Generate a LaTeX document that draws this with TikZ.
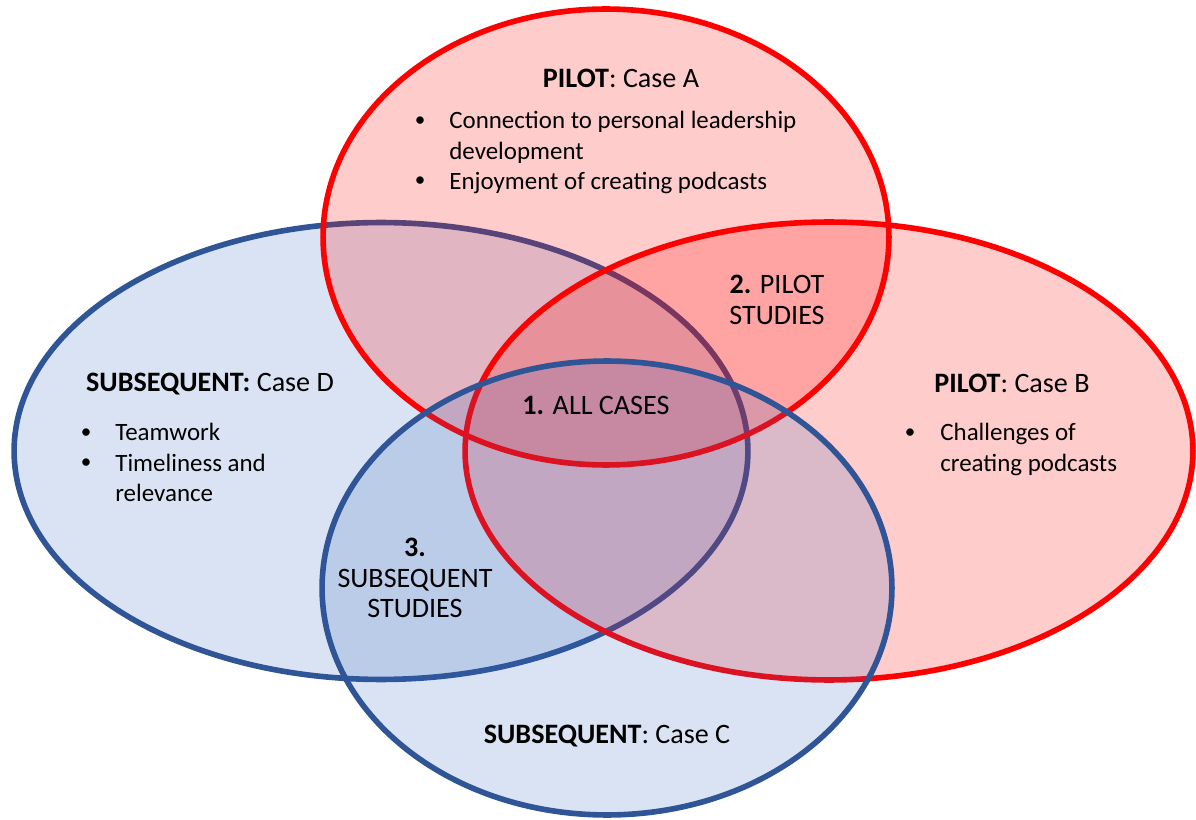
\documentclass[tikz,border=0pt]{standalone}
\usepackage{fontspec}
\setmainfont{Carlito}
\usepackage{tikz}
\usetikzlibrary{shapes, positioning}
\definecolor{pilotred}{RGB}{255,0,0}
\definecolor{subblue}{RGB}{47,85,151}
\definecolor{subfill}{RGB}{50,100,188}
\tikzstyle{pilot} = [ellipse, draw=pilotred, line width=3.2pt,
    fill=pilotred, fill opacity=0.2, draw opacity=1, inner sep=0pt]
\tikzstyle{subsequent} = [ellipse, draw=subblue, line width=3.2pt,
    fill=subfill, fill opacity=0.18, draw opacity=1, inner sep=0pt]
\tikzstyle{label} = [font=\fontsize{16}{17.5}\selectfont, inner sep=0pt, align=left]
\tikzstyle{finding} = [font=\fontsize{14.2}{17.3}\selectfont, inner sep=0pt, align=left]
\tikzstyle{bullet} = [font=\fontsize{12}{17.5}\selectfont, inner sep=0pt]

\begin{document}
\begin{tikzpicture}[x=0.02cm, y=-0.02cm]
    \useasboundingbox (0,0) rectangle (1196,820);
    % Sets
    \node [subsequent, minimum width=14.68cm, minimum height=9.14cm] (caseD) at (381,451) {};
    \node [pilot, minimum width=14.56cm, minimum height=9.16cm] (caseB) at (829,451) {};
    \node [pilot, minimum width=11.32cm, minimum height=9.12cm] (caseA) at (606,237) {};
    \node [subsequent, minimum width=11.40cm, minimum height=9.08cm] (caseC) at (607,588) {};
    % Titles
    \node [label] (titleA) at (621,78) {\textbf{PILOT}: Case A};
    \node [label] (titleB) at (1012,383) {\textbf{PILOT}: Case B};
    \node [label] (titleC) at (607,736) {\textbf{SUBSEQUENT}: Case C};
    \node [label] (titleD) at (210,384) {\textbf{SUBSEQUENT:} Case D};
    % Findings
    \node [finding, anchor=north west] (listA) at (449,111)
        {Connection to personal leadership\\development\\Enjoyment of creating podcasts};
    \node [bullet] (bulletA) at (420,122) {•};
    \node [bullet] at (420,182) {•};
    \node [finding, anchor=north west] (listB) at (940,423) {Challenges of\\creating podcasts};
    \node [bullet] (bulletB) at (910,434) {•};
    \node [finding, anchor=north west] (listD) at (115,423) {Teamwork\\Timeliness and\\relevance};
    \node [bullet] (bulletD) at (86,434) {•};
    \node [bullet] at (86,464) {•};
    % Overlaps
    \node [label, align=center] (allcases) at (596,405) {\textbf{1.} ALL CASES};
    \node [label, align=center] (pilots) at (777,300) {\textbf{2.} PILOT\\STUDIES};
    \node [label, align=center] (subsequents) at (415,578) {\textbf{3.}\\SUBSEQUENT\\STUDIES};
\end{tikzpicture}
\end{document}
